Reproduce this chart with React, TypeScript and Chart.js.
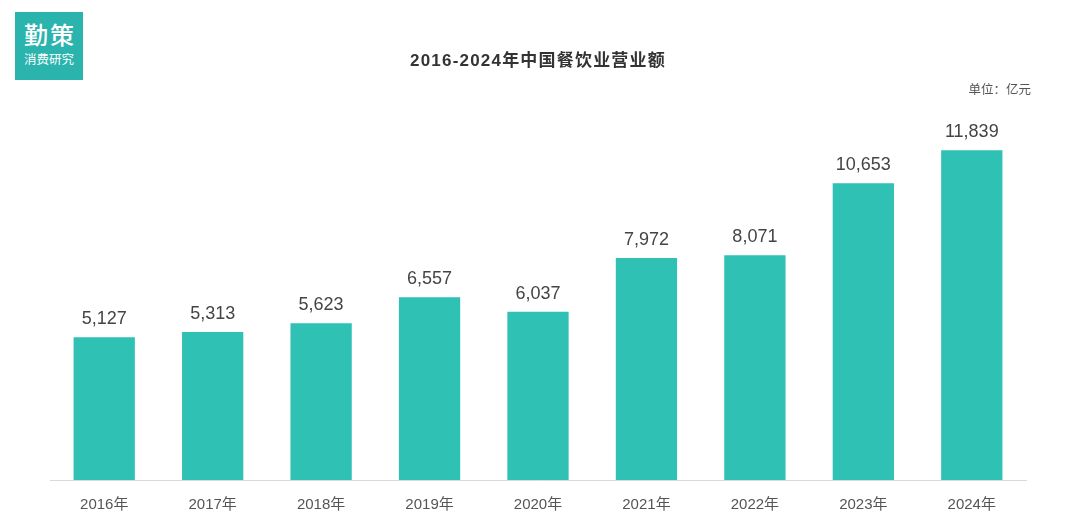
import React, { useEffect, useRef } from "react";
import { Chart, registerables } from "chart.js";

Chart.register(...registerables);

const categories = ["2016年", "2017年", "2018年", "2019年", "2020年", "2021年", "2022年", "2023年", "2024年"];
const revenue = [5127, 5313, 5623, 6557, 6037, 7972, 8071, 10653, 11839];
const titleText = "2016-2024年中国餐饮业营业额";
const unitText = "单位：亿元";

const FONT = "'Liberation Sans', Arial, 'Noto Sans CJK SC', sans-serif";
const CJK = "'Noto Sans CJK SC', sans-serif";

export default function App() {
  const ref = useRef<HTMLCanvasElement | null>(null);

  useEffect(() => {
    document.body.style.margin = "0";
    const canvas = ref.current;
    if (!canvas) return;

    const labelPlugin = {
      id: "labels",
      afterDraw(chart: any) {
        const ctx = chart.ctx;
        ctx.save();
        // title
        ctx.fillStyle = "#333";
        ctx.font = `bold 17px ${FONT}`;
        (ctx as any).letterSpacing = "1.2px";
        ctx.textAlign = "center";
        ctx.textBaseline = "middle";
        ctx.fillText(titleText, (chart.chartArea.left + chart.chartArea.right) / 2, 61);
        (ctx as any).letterSpacing = "0px";
        // unit
        ctx.fillStyle = "#555";
        ctx.font = `12.5px ${FONT}`;
        ctx.textAlign = "right";
        ctx.fillText(unitText, 1031, 91);
        // values
        const meta = chart.getDatasetMeta(0);
        ctx.fillStyle = "#444";
        ctx.font = `18px ${FONT}`;
        ctx.textAlign = "center";
        meta.data.forEach((bar: any, i: number) => {
          ctx.fillText(revenue[i].toLocaleString("en-US"), bar.x, bar.y - 18);
        });
        ctx.restore();
      },
    };

    const chart = new Chart(canvas, {
      type: "bar",
      data: {
        labels: categories,
        datasets: [
          {
            data: revenue,
            backgroundColor: "#2ec1b4",
            categoryPercentage: 1,
            barPercentage: 0.565,
          },
        ],
      },
      options: {
        animation: false,
        responsive: false,
        layout: { padding: { left: 50, right: 45, top: 90, bottom: 0 } },
        plugins: { legend: { display: false }, tooltip: { enabled: false }, title: { display: false } },
        scales: {
          y: { display: false, min: 0, max: 14000 },
          x: {
            grid: { display: false },
            border: { color: "#d9d9d9", width: 1 },
            ticks: { color: "#555", font: { size: 15, family: FONT }, padding: 8 },
            afterFit(scale: any) {
              scale.height = 51;
            },
          },
        },
      },
      plugins: [labelPlugin],
    });
    return () => chart.destroy();
  }, []);

  return (
    <div style={{ position: "relative", width: 1071, height: 531, background: "#fff" }}>
      <canvas ref={ref} width={1071} height={531} style={{ display: "block" }} />
      <div
        style={{
          position: "absolute",
          left: 15,
          top: 12,
          width: 68,
          height: 68,
          background: "#2bb4ae",
          color: "#fff",
          fontFamily: CJK,
          textAlign: "center",
        }}
      >
        <div style={{ fontSize: 24, lineHeight: "24px", marginTop: 10, letterSpacing: 2, paddingLeft: 2, fontWeight: 500 }}>勤策</div>
        <div style={{ fontSize: 12.5, lineHeight: "13px", marginTop: 6 }}>消费研究</div>
      </div>
    </div>
  );
}
